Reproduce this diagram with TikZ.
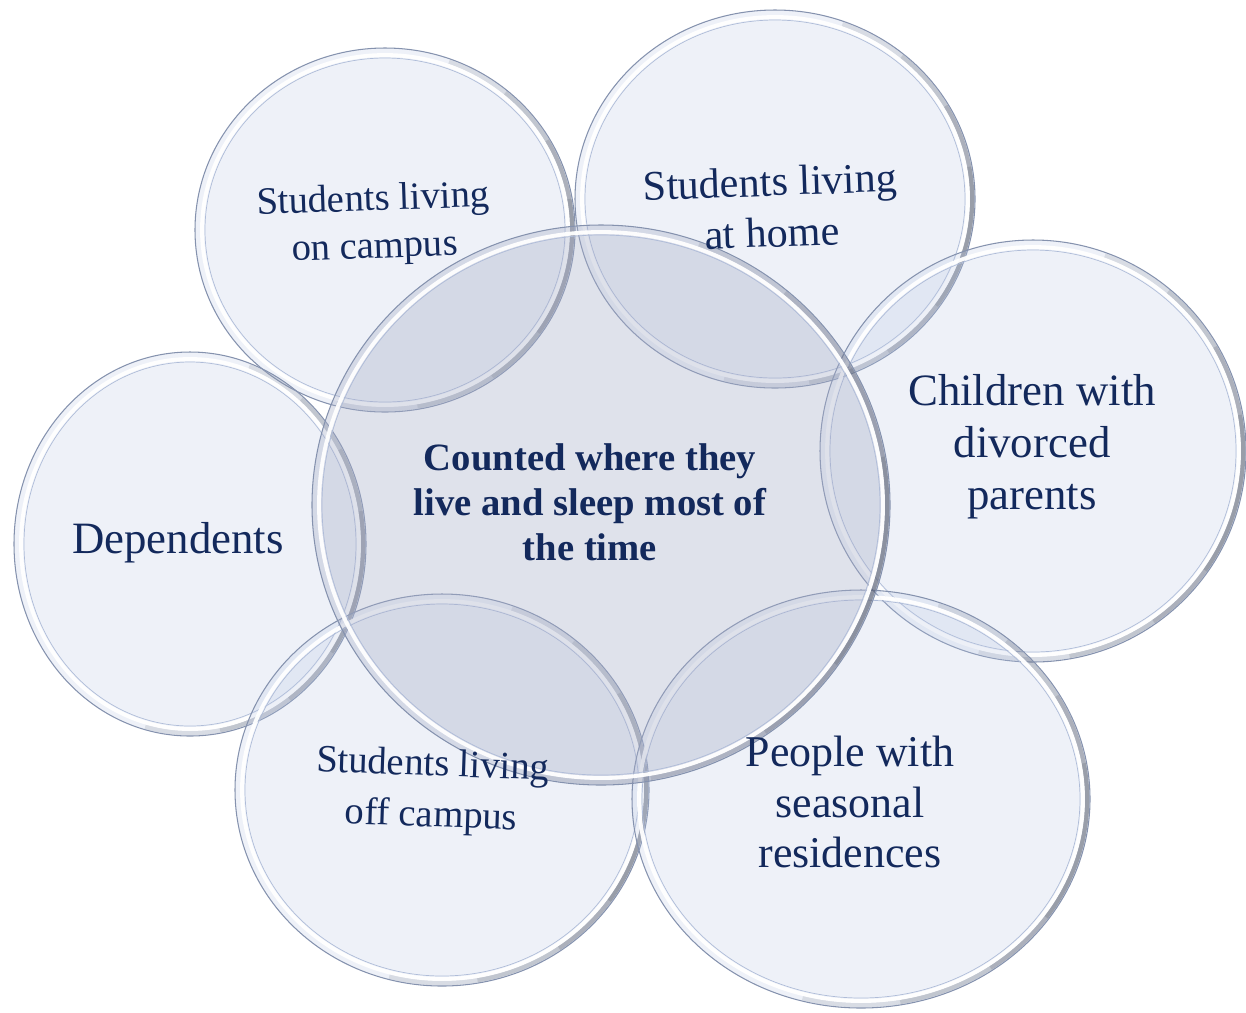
\documentclass[tikz,border=0pt]{standalone}
\usepackage{fontspec}
\setmainfont{Liberation Serif}
\usetikzlibrary{calc}

\definecolor{labelnavy}{HTML}{13295C}
\definecolor{glassblue}{HTML}{B8C6E2}
\definecolor{glasscore}{HTML}{A7AEC8}
\definecolor{rimedge}{HTML}{8592AE}
\definecolor{rimthin}{HTML}{AFBCD8}
\definecolor{rimshadow}{HTML}{3A4152}

\begin{document}
\begin{tikzpicture}[x=0.02cm, y=-0.02cm,
	rim/.style={draw=rimedge, line width=0.6pt},
	gleam/.style={draw=white, line width=2.2pt, opacity=0.95},
	thinrim/.style={draw=rimthin, line width=0.4pt},
	shade/.style={draw=rimshadow, line width=2.6pt, opacity=#1},
	label/.style={text=labelnavy, align=center}]

	% canvas in pixels, y pointing down
	\useasboundingbox (0,0) rectangle (1246,1012);

	% the glass discs: centre x / centre y / x radius / y radius / fill / fill opacity
	\foreach \cx/\cy/\rx/\ry/\fc/\fo in {
		385/230/190/182/glassblue/0.24,
		775/199/200/189/glassblue/0.24,
		1033/451/213/211/glassblue/0.24,
		190/544/176/192/glassblue/0.24,
		442/790/207/196/glassblue/0.24,
		861/799/229/209/glassblue/0.24,
		601/505/289/280/glasscore/0.36}
	{
		\fill[fill=\fc, fill opacity=\fo] (\cx,\cy) ellipse [x radius=\rx, y radius=\ry];
		% shadow on the lower right of the rim, darker towards the right
		\foreach \a/\b/\o in {-70/105/0.12, -50/80/0.14, -30/55/0.16, -10/35/0.16}
			\draw[shade=\o] (\cx,\cy) ++({(\rx-3)*cos(\a)},{(\ry-3)*sin(\a)})
				arc[start angle=\a, end angle=\b, x radius=\rx-3, y radius=\ry-3];
		\draw[rim] (\cx,\cy) ellipse [x radius=\rx, y radius=\ry];
		\draw[gleam] (\cx,\cy) ellipse [x radius=\rx-7, y radius=\ry-7];
		\draw[thinrim] (\cx,\cy) ellipse [x radius=\rx-10, y radius=\ry-10];
	}

	% the labels
	\node[label, rotate=2, font=\fontsize{22}{27}\selectfont] (campus) at (374,225) {Students living\\on campus};
	\node[label, rotate=2, font=\fontsize{24}{29}\selectfont] (home) at (771,207) {Students living\\at home};
	\node[label, font=\fontsize{25.5}{29.5}\selectfont] (divorced) at (1032,447) {Children with\\divorced\\parents};
	\node[label, font=\fontsize{25.5}{29.5}\selectfont] (dependents) at (178,543) {Dependents};
	\node[label, font=\fontsize{22}{25.5}\selectfont\bfseries] (core) at (590,502) {Counted where they\\live and sleep most of\\the time};
	\node[label, rotate=-2, font=\fontsize{22}{29}\selectfont] (offcampus) at (432,792) {Students living\\off campus};
	\node[label, font=\fontsize{25}{29}\selectfont] (seasonal) at (850,802) {People with\\seasonal\\residences};

\end{tikzpicture}
\end{document}
